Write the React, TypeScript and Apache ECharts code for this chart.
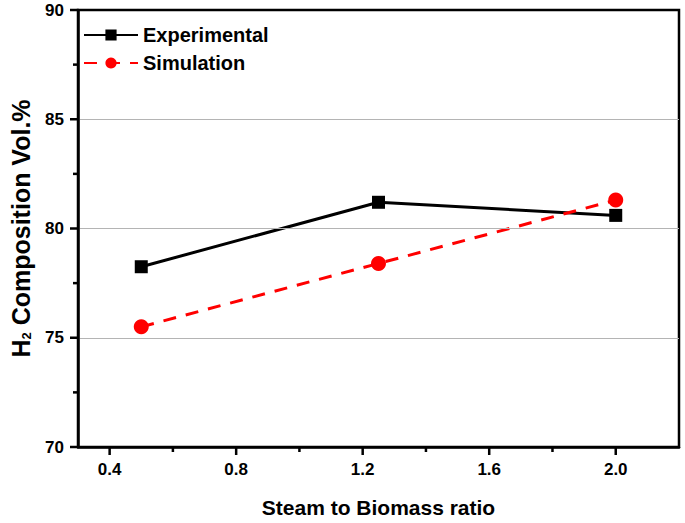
import React, { useEffect, useRef } from "react";
import * as echarts from "echarts";

const ratios = [0.5, 1.25, 2.0];
const experimental = [78.25, 81.2, 80.6];
const simulation = [75.5, 78.4, 81.3];
const xTickValues = [0.4, 0.8, 1.2, 1.6, 2.0];
const xMinorValues = [0.6, 1.0, 1.4, 1.8];
const yTickValues = [70, 75, 80, 85, 90];
const yMinorValues = [72.5, 77.5, 82.5, 87.5];

export default function App() {
  const ref = useRef<HTMLDivElement>(null);
  useEffect(() => {
    if (!ref.current) return;
    const chart = echarts.init(ref.current, null, { renderer: "svg" });
    const font = "Liberation Sans, Arial, sans-serif";
    chart.setOption({
      animation: false,
      backgroundColor: "#ffffff",
      grid: {
        left: 72,
        right: 6,
        top: 10,
        bottom: 69,
        show: true,
        borderColor: "#000",
        borderWidth: 2.5,
        backgroundColor: "transparent",
        z: 0,
      },
      legend: {
        left: 78,
        top: 20,
        orient: "vertical",
        itemWidth: 54,
        itemHeight: 14,
        itemGap: 8,
        textStyle: { fontFamily: font, fontWeight: "bold", fontSize: 20, color: "#000" },
        data: ["Experimental", "Simulation"],
      },
      xAxis: {
        type: "value",
        min: 0.3,
        max: 2.2,
        z: 5,
        name: "Steam to Biomass ratio",
        nameLocation: "middle",
        nameGap: 50,
        nameTextStyle: { fontFamily: font, fontWeight: "bold", fontSize: 21, color: "#000" },
        axisLine: { show: true, lineStyle: { color: "#000", width: 2.5 } },
        axisTick: { show: false },
        axisLabel: {
          customValues: xTickValues,
          formatter: (v: number) => v.toFixed(1),
          margin: 14,
          fontFamily: font,
          fontWeight: "bold",
          fontSize: 17,
          color: "#000",
        },
        splitLine: { show: false },
      },
      yAxis: {
        type: "value",
        min: 70,
        max: 90,
        interval: 5,
        z: 5,
        name: "{h|H}{sub|2}{h| Composition Vol.%}",
        nameLocation: "middle",
        nameGap: 45,
        nameTextStyle: {
          rich: {
            h: { fontFamily: font, fontWeight: "bold", fontSize: 25, color: "#000" },
            sub: { fontFamily: font, fontWeight: "bold", fontSize: 13, color: "#000", padding: [12, 0, 0, 0] },
          },
        },
        axisLine: { show: true, lineStyle: { color: "#000", width: 2.5 } },
        axisTick: { show: false },
        axisLabel: {
          margin: 14,
          fontFamily: font,
          fontWeight: "bold",
          fontSize: 17,
          color: "#000",
        },
        splitLine: {
          show: true,
          showMinLine: false,
          showMaxLine: false,
          lineStyle: { color: "#b4b4b4", width: 1 },
        },
      },
      series: [
        {
          name: "Experimental",
          type: "line",
          data: ratios.map((x, i) => [x, experimental[i]]),
          symbol: "rect",
          symbolSize: 13,
          itemStyle: { color: "#000" },
          lineStyle: { color: "#000", width: 3 },
          z: 3,
        },
        {
          name: "Simulation",
          type: "line",
          data: ratios.map((x, i) => [x, simulation[i]]),
          symbol: "circle",
          symbolSize: 15,
          itemStyle: { color: "#ff0000" },
          lineStyle: { color: "#ff0000", width: 3, type: [13, 10] },
          z: 4,
        },
      ],
    });

    // Axis ticks placed through the axes' own scales
    const y0 = chart.convertToPixel({ yAxisIndex: 0 }, 70) as number;
    const x0 = chart.convertToPixel({ xAxisIndex: 0 }, 0.3) as number;
    const tickStyle = { stroke: "#000", lineWidth: 2.5 };
    const elements: any[] = [];
    const addX = (vals: number[], len: number) =>
      vals.forEach((v) => {
        const px = chart.convertToPixel({ xAxisIndex: 0 }, v) as number;
        elements.push({ type: "line", shape: { x1: px, y1: y0, x2: px, y2: y0 + len }, style: tickStyle, z: 10 });
      });
    const addY = (vals: number[], len: number) =>
      vals.forEach((v) => {
        const py = chart.convertToPixel({ yAxisIndex: 0 }, v) as number;
        elements.push({ type: "line", shape: { x1: x0, y1: py, x2: x0 - len, y2: py }, style: tickStyle, z: 10 });
      });
    addX(xTickValues, 8);
    addX(xMinorValues, 5);
    addY(yTickValues, 8);
    addY(yMinorValues, 5);
    chart.setOption({ graphic: { elements } });

    return () => chart.dispose();
  }, []);
  return <div ref={ref} style={{ width: 685, height: 523, position: "absolute", left: 0, top: 0 }} />;
}
